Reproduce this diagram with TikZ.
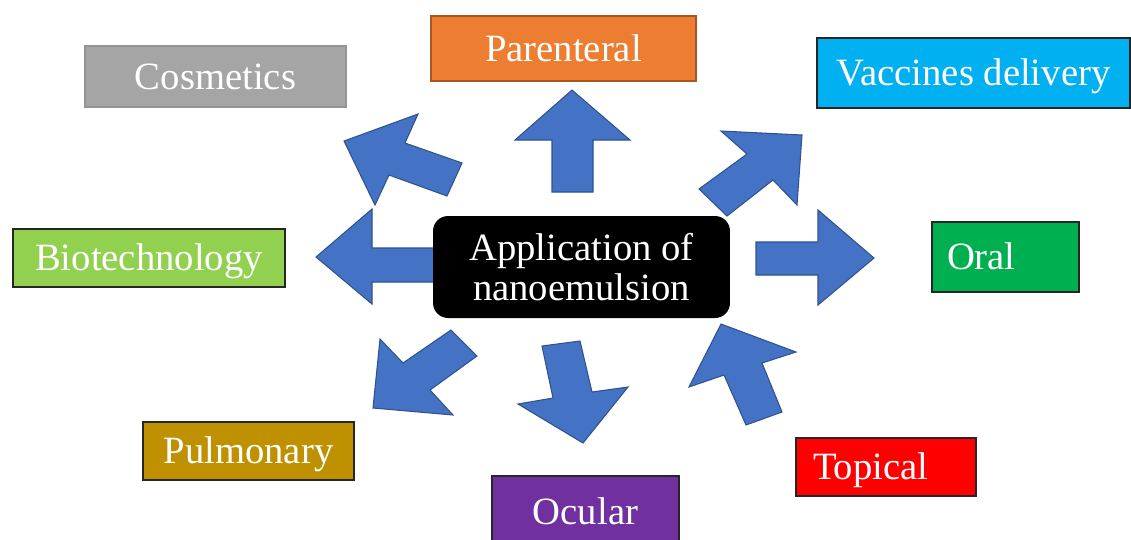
\documentclass[tikz,border=0pt]{standalone}
\usepackage{fontspec}
\setmainfont{Liberation Serif}
\usepackage{xcolor}
\usepackage{tikz}

\definecolor{arrowblue}{HTML}{4472C4}
\definecolor{arrowedge}{HTML}{2F528F}
\definecolor{cosmgray}{HTML}{A5A5A5}
\definecolor{parorange}{HTML}{ED7D31}
\definecolor{vaccyan}{HTML}{00B0F0}
\definecolor{biogreen}{HTML}{92D050}
\definecolor{oralgreen}{HTML}{00B050}
\definecolor{pulgold}{HTML}{BF9000}
\definecolor{ocupurple}{HTML}{7030A0}

\begin{document}
\begin{tikzpicture}[x = 0.02cm, y = -0.02cm,
		blockarrow/.style = {fill = arrowblue, draw = arrowedge, line width = 0.6pt, line join = miter},
		appbox/.style = {draw = black!85, line width = 0.9pt, text = white, inner sep = 0pt,
			font = \fontsize{22}{23}\selectfont, text height = 14.5pt, text depth = 0pt}
	]
						\useasboundingbox (0,0) rectangle (1131,539);
						\clip (0,0) rectangle (1131,539);

						\begin{scope}[blockarrow]
							\filldraw (552,192) -- (552,140) -- (515,140) -- (572,90) -- (630,140) -- (593,140) -- (593,192) -- cycle;
							\filldraw (440,248) -- (372,248) -- (372,209) -- (316,257) -- (372,304) -- (372,282) -- (440,282) -- cycle;
							\filldraw (756,242) -- (818,242) -- (818,210) -- (874,258) -- (818,305) -- (818,275) -- (756,275) -- cycle;
							\filldraw (699,189) -- (747,154) -- (721,131) -- (802,135) -- (797,205) -- (773,180) -- (727,216) -- cycle;
							\filldraw (462,163) -- (405,143) -- (418,114) -- (344,141) -- (375,205) -- (389,175) -- (447,196) -- cycle;
							\filldraw (451,330) -- (403,363) -- (380,339) -- (373,408) -- (453,415) -- (430,390) -- (477,356) -- cycle;
							\filldraw (542,346) -- (580,341) -- (592,392) -- (628,387) -- (583,443) -- (518,404) -- (553,398) -- cycle;
							\filldraw (746,425) -- (724,375) -- (689,387) -- (721,324) -- (796,352) -- (762,363) -- (782,412) -- cycle;
						\end{scope}

						\node [fill = black, rounded corners = 0.3cm, minimum width = 5.94cm, minimum height = 2.04cm,
							text = white, align = center, font = \fontsize{22}{23}\selectfont] (app) at (581.5,267) {Application of\\nanoemulsion};

						\begin{scope}
							\node [appbox, fill = cosmgray, draw = cosmgray!90!black, minimum width = 5.22cm, minimum height = 1.22cm] (cosm) at (215.5,76.5) {Cosmetics};
							\node [appbox, fill = parorange, draw = parorange!70!black, minimum width = 5.30cm, minimum height = 1.30cm] (par) at (563.5,48.5) {Parenteral};
							\node [appbox, fill = vaccyan, minimum width = 6.26cm, minimum height = 1.40cm] (vac) at (973.5,73) {Vaccines delivery};
							\node [appbox, fill = biogreen, minimum width = 5.44cm, minimum height = 1.16cm] (bio) at (149,258) {Biotechnology};
							\node [appbox, fill = oralgreen, minimum height = 1.40cm, text width = 2.34cm, inner xsep = 0.3cm, align = left] (oral) at (1005.5,257) {Oral};
							\node [appbox, fill = pulgold, minimum width = 4.22cm, minimum height = 1.16cm] (pul) at (248.5,451) {Pulmonary};
							\node [appbox, fill = ocupurple, minimum width = 3.74cm, minimum height = 1.42cm] (ocu) at (585.5,511.5) {Ocular};
							\node [appbox, fill = red, minimum height = 1.16cm, text width = 2.92cm, inner xsep = 0.34cm, align = left] (top) at (886,467) {Topical};
						\end{scope}
					\end{tikzpicture}
\end{document}
